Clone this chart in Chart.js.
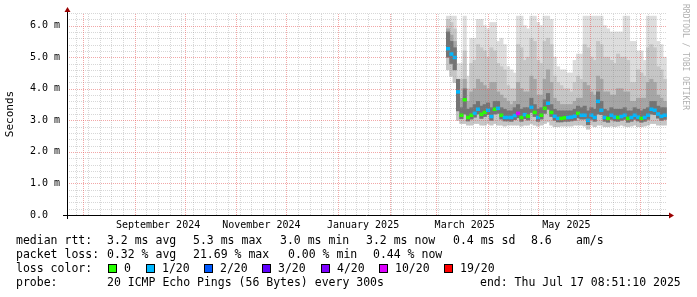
<!DOCTYPE html>
<html>
<head>
<meta charset="utf-8">
<title>SmokePing</title>
<script src="https://cdn.jsdelivr.net/npm/chart.js@4.4.1/dist/chart.umd.min.js"></script>
<style>
  html, body { margin: 0; padding: 0; background: #fff; }
  #wrap { width: 697px; height: 297px; position: relative; }
</style>
</head>
<body>
<div id="wrap"><canvas id="smoke" width="697" height="297"></canvas></div>
<script>
// time range of the graph (days since epoch)
const endDay = Date.UTC(2025, 6, 17, 8, 51, 10) / 864e5;
const spanDays = 360;

// samples: one every 2 days, starting 2025-03-08
const firstSample = '2025-03-08';
const sampleStepDays = 2;

// median rtt (ms)
const median = [5.27,5.1,4.99,3.9,3.16,3.65,3.09,3.16,3.22,3.35,
  3.19,3.25,3.32,3.12,3.35,3.38,3.16,3.09,3.09,3.09,
  3.15,3.22,3.09,3.18,3.13,3.41,3.25,3.09,3.16,3.38,
  3.54,3.25,3.13,3.06,3.06,3.08,3.09,3.1,3.13,3.22,
  3.16,3.16,3.0,3.16,3.09,3.6,3.32,3.09,3.06,3.16,
  3.1,3.09,3.12,3.16,3.06,3.09,3.16,3.1,3.06,3.09,
  3.16,3.35,3.32,3.2,3.13,3.16];
// index into lossLabels / lossColors
const lossIdx = [1,1,1,1,0,0,0,0,1,1, 0,0,1,1,0,1,0,1,1,1,
  1,5,0,1,0,1,0,1,0,0, 1,0,1,1,0,0,1,1,1,0,
  1,1,1,1,1,1,1,1,0,1, 1,0,1,1,0,1,1,1,0,1,
  1,1,1,1,1,1];
// smoke: spread of the 20 pings (ms)
const pingMin = [4.6,4.4,4.2,3.0,2.9,2.9,2.85,2.85,2.9,2.9,
  2.85,2.85,2.9,2.85,2.9,2.85,2.85,2.82,2.85,2.85,
  2.85,2.85,2.82,2.85,2.85,2.9,2.85,2.82,2.85,2.9,
  2.95,2.85,2.8,2.8,2.82,2.82,2.82,2.82,2.85,2.85,
  2.85,2.82,2.72,2.85,2.8,2.85,2.85,2.8,2.8,2.82,
  2.8,2.82,2.85,2.82,2.8,2.82,2.85,2.8,2.8,2.82,
  2.85,2.9,2.9,2.85,2.85,2.85];
const ping25 = [5.0,4.8,4.6,3.3,3.05,3.2,2.98,3.04,3.1,3.2,
  3.06,3.12,3.18,3.0,3.2,3.22,3.04,2.98,2.98,2.97,
  3.02,3.08,2.97,3.05,3.01,3.25,3.12,2.97,3.04,3.22,
  3.35,3.12,3.0,2.95,2.95,2.97,2.97,2.98,3.0,3.08,
  3.04,3.04,2.86,3.03,2.97,3.2,3.18,2.97,2.94,3.03,
  2.98,2.97,3.0,3.03,2.94,2.97,3.03,2.98,2.94,2.97,
  3.03,3.2,3.18,3.07,3.0,3.03];
const ping60 = [5.8,5.5,5.3,4.3,3.4,4.0,3.35,3.4,3.5,3.6,
  3.45,3.5,3.55,3.4,3.6,3.6,3.4,3.35,3.3,3.3,
  3.4,3.5,3.35,3.4,3.4,3.7,3.5,3.35,3.4,3.65,
  3.85,3.5,3.35,3.3,3.3,3.3,3.3,3.3,3.35,3.45,
  3.4,3.45,3.3,3.4,3.35,3.9,3.6,3.35,3.3,3.4,
  3.35,3.35,3.35,3.4,3.3,3.3,3.4,3.35,3.3,3.35,
  3.4,3.6,3.6,3.45,3.4,3.4];
const ping75 = [5.9,5.7,5.5,3.8,3.7,4.3,3.6,3.9,4.0,4.3,
  4.2,4.1,4.0,4.2,4.2,3.9,3.8,3.7,3.6,3.5,
  3.6,4.2,4.0,3.9,3.9,4.4,4.3,3.8,3.8,4.3,
  4.6,4.2,3.7,3.6,3.5,3.5,3.5,3.5,3.6,3.7,
  3.7,4.2,4.1,3.9,3.8,4.4,4.3,3.9,3.9,3.8,
  3.8,4.0,4.0,3.9,3.9,3.6,3.6,3.7,3.7,3.7,
  4.2,4.3,4.2,3.8,3.7,3.6];
const ping90 = [6.2,6.1,5.9,4.2,4.3,5.2,4.0,4.8,4.9,5.4,
  5.3,5.2,5.0,5.3,5.2,4.8,4.7,4.6,4.1,4.0,
  4.0,5.4,5.3,4.9,5.0,5.6,5.5,4.9,4.8,5.5,
  5.6,5.4,4.4,4.2,4.1,4.0,4.0,3.9,4.2,4.4,
  4.3,5.4,5.3,5.0,4.9,5.5,5.4,5.0,5.0,4.9,
  4.8,5.1,5.0,5.0,4.9,4.2,4.2,4.6,4.5,4.4,
  5.3,5.4,5.3,4.7,4.6,4.3];
const pingMax = [6.3,6.3,6.3,4.8,4.8,6.3,4.4,5.6,5.6,6.2,
  6.2,6.0,5.9,6.1,6.1,5.5,5.6,5.4,4.7,4.6,
  4.5,6.3,6.3,6.0,5.9,6.3,6.3,6.1,6.0,6.3,
  6.3,6.2,5.0,4.7,4.6,4.6,4.5,4.5,4.9,5.1,
  5.1,6.3,6.3,6.3,6.3,6.3,6.3,6.0,5.9,5.8,
  5.8,5.8,5.8,6.3,6.3,5.5,5.5,5.2,5.2,4.9,
  6.3,6.3,6.3,5.5,5.4,5.0];

const lossLabels = ['0', '1/20', '2/20', '3/20', '4/20', '10/20', '19/20'];
const lossColors = ['#26ff00', '#00b8ff', '#0059ff', '#5e00ff', '#7e00ff', '#dd00ff', '#ff0000'];

// axis labels
const monthLabels = ['September 2024', 'November 2024', 'January 2025', 'March 2025', 'May 2025'];
const monthLabelDays = ['2024-09-15', '2024-11-16', '2025-01-16', '2025-03-18', '2025-05-18'];
const yLabels = ['0.0', '1.0 m', '2.0 m', '3.0 m', '4.0 m', '5.0 m', '6.0 m'];
const yMax = 6.4;

// legend texts
const rttStats = ['median rtt:', '3.2 ms avg', '5.3 ms max', '3.0 ms min', '3.2 ms now', '0.4 ms sd', '8.6', 'am/s'];
const lossStats = ['packet loss:', '0.32 % avg', '21.69 % max', '0.00 % min', '0.44 % now'];
const probeText = ['probe:', '20 ICMP Echo Pings (56 Bytes) every 300s', 'end: Thu Jul 17 08:51:10 2025'];

const dayNum = s => Date.parse(s + 'T00:00:00Z') / 864e5;
const xMin = endDay - spanDays, xMax = endDay;
const x0 = dayNum(firstSample);
const sx = median.map((_, i) => x0 + i * sampleStepDays);

function band(lo, hi) {
  return sx.map((x, i) => ({ x: x, y: [lo[i], hi[i]] }));
}

// vertical grid: sundays (minor) and month starts (major)
const monthDays = [];
for (let y = 2024, m = 0; y < 2026; m++) {
  if (m > 11) { m = 0; y++; }
  const d = Date.UTC(y, m, 1) / 864e5;
  if (d > xMax) break;
  if (d >= xMin) monthDays.push(d);
}
const weekDays = [];
for (let d = Math.ceil(xMin); d <= xMax; d++) {
  if ((d + 4) % 7 === 0 && !monthDays.includes(d)) weekDays.push(d);
}
const labelMap = new Map(monthLabelDays.map((s, i) => [dayNum(s), monthLabels[i]]));
const xTicks = [...labelMap.keys()].map(v => ({ value: v }));
const yTicks = [];
for (let k = 0; k <= Math.round(yMax * 5); k++) yTicks.push({ value: k / 5 });

const MINOR = 'rgba(130,130,130,0.32)';
const MAJOR = 'rgba(230,80,80,0.5)';
const MONO = '"DejaVu Sans Mono", monospace';

const rrdDecor = {
  id: 'rrdDecor',
  beforeDraw(chart) {
    const ctx = chart.ctx;
    ctx.save();
    ctx.fillStyle = '#fff';
    ctx.fillRect(0, 0, chart.width, chart.height);
    ctx.restore();
  },
  afterDatasetsDraw(chart) {
    // rrdtool style dotted grid, drawn over the smoke
    const { ctx, chartArea: a, scales } = chart;
    const xs = scales.x, ys = scales.y;
    ctx.save();
    ctx.lineWidth = 1;
    ctx.setLineDash([1, 1]);
    const vline = (d, col) => {
      const px = Math.round(xs.getPixelForValue(d)) + 0.5;
      ctx.strokeStyle = col;
      ctx.beginPath(); ctx.moveTo(px, a.bottom); ctx.lineTo(px, a.top); ctx.stroke();
    };
    const hline = (v, col) => {
      const py = Math.round(ys.getPixelForValue(v)) + 0.5;
      ctx.strokeStyle = col;
      ctx.beginPath(); ctx.moveTo(a.left, py); ctx.lineTo(a.right, py); ctx.stroke();
    };
    yTicks.forEach(t => { if (Math.round(t.value * 5) % 5 !== 0) hline(t.value, MINOR); });
    weekDays.forEach(d => vline(d, MINOR));
    yTicks.forEach(t => { if (Math.round(t.value * 5) % 5 === 0 && t.value > 0) hline(t.value, MAJOR); });
    monthDays.forEach(d => vline(d, MAJOR));
    ctx.restore();
  },
  afterDraw(chart) {
    const { ctx, chartArea: a } = chart;
    ctx.save();
    // axes
    ctx.strokeStyle = '#000';
    ctx.lineWidth = 1;
    ctx.beginPath();
    ctx.moveTo(a.left - 4, a.bottom + 0.5);
    ctx.lineTo(a.right + 3, a.bottom + 0.5);
    ctx.moveTo(a.left + 0.5, a.bottom + 4);
    ctx.lineTo(a.left + 0.5, a.top - 2);
    ctx.stroke();
    ctx.fillStyle = '#9a0000';
    ctx.beginPath();
    ctx.moveTo(a.right + 2, a.bottom - 2.5);
    ctx.lineTo(a.right + 7, a.bottom + 0.5);
    ctx.lineTo(a.right + 2, a.bottom + 3.5);
    ctx.closePath();
    ctx.fill();
    ctx.beginPath();
    ctx.moveTo(a.left - 2.5, a.top - 1);
    ctx.lineTo(a.left + 0.5, a.top - 6);
    ctx.lineTo(a.left + 3.5, a.top - 1);
    ctx.closePath();
    ctx.fill();

    // watermark
    ctx.save();
    ctx.translate(685, 4);
    ctx.rotate(Math.PI / 2);
    ctx.font = '8px ' + MONO;
    ctx.fillStyle = '#b0b0b0';
    ctx.textBaseline = 'middle';
    ctx.fillText('RRDTOOL / TOBI OETIKER', 0, 0);
    ctx.restore();

    // legend
    ctx.font = '11.5px ' + MONO;
    ctx.fillStyle = '#000';
    ctx.textBaseline = 'middle';
    const rttX = [16, 107, 193, 280, 366, 453, 531, 576];
    rttStats.forEach((t, i) => ctx.fillText(t, rttX[i], 241));
    const lossX = [16, 107, 193, 288, 373];
    lossStats.forEach((t, i) => ctx.fillText(t, lossX[i], 255));
    ctx.fillText('loss color:', 16, 269);
    const boxX = [108, 146, 204, 262, 321, 379, 444];
    lossLabels.forEach((t, i) => {
      ctx.fillStyle = lossColors[i];
      ctx.fillRect(boxX[i], 264, 9, 9);
      ctx.strokeStyle = '#000';
      ctx.strokeRect(boxX[i] + 0.5, 264.5, 8, 8);
      ctx.fillStyle = '#000';
      ctx.fillText(t, boxX[i] + 16, 269);
    });
    ctx.fillText(probeText[0], 16, 283);
    ctx.fillText(probeText[1], 107, 283);
    ctx.fillText(probeText[2], 480, 283);
    ctx.restore();
  }
};

Chart.defaults.font.family = MONO;
Chart.defaults.color = '#000';

// bar width = one 2-day sample on a 600px / 360-day axis
const barBase = { grouped: false, barThickness: 3.4, borderWidth: 0 };

new Chart(document.getElementById('smoke'), {
  type: 'bar',
  data: {
    datasets: [
      Object.assign({ label: 'median', data: sx.map((x, i) => ({ x: x, y: [median[i] - 0.045, median[i] + 0.045] })),
        backgroundColor: lossIdx.map(k => lossColors[k]) }, barBase),
      Object.assign({ label: 'core', data: band(ping25, ping60), backgroundColor: '#747474' }, barBase),
      Object.assign({ label: 'p75', data: band(ping25, ping75), backgroundColor: '#a6a6a6' }, barBase),
      Object.assign({ label: 'p90', data: band(pingMin, ping90), backgroundColor: '#c6c6c6' }, barBase),
      Object.assign({ label: 'max', data: band(pingMin, pingMax), backgroundColor: '#dddddd' }, barBase)
    ]
  },
  options: {
    responsive: false,
    animation: false,
    events: [],
    layout: { padding: { left: 0, top: 12, right: 30, bottom: 62 } },
    plugins: { legend: { display: false }, tooltip: { enabled: false } },
    scales: {
      x: {
        type: 'linear',
        min: xMin,
        max: xMax,
        offset: false,
        grid: { display: false, offset: false, drawTicks: false },
        border: { display: false },
        ticks: {
          autoSkip: false,
          maxRotation: 0,
          padding: 4,
          font: { size: 10 },
          callback: v => labelMap.get(v) || ''
        },
        afterBuildTicks: s => { s.ticks = xTicks; },
        afterFit: s => { s.height = 20; }
      },
      y: {
        type: 'linear',
        min: 0,
        max: yMax,
        grid: { display: false, drawTicks: false },
        border: { display: false },
        title: { display: true, text: 'Seconds', font: { size: 11 }, padding: { top: 4, bottom: 0 } },
        ticks: {
          autoSkip: false,
          padding: 7,
          font: { size: 10 },
          callback: v => {
            const k = Math.round(v * 5);
            return k % 5 === 0 ? yLabels[k / 5] + (k === 0 ? '  ' : '') : '';
          }
        },
        afterBuildTicks: s => { s.ticks = yTicks; },
        afterFit: s => { s.width = 67; }
      }
    }
  },
  plugins: [rrdDecor]
});
</script>
</body>
</html>
